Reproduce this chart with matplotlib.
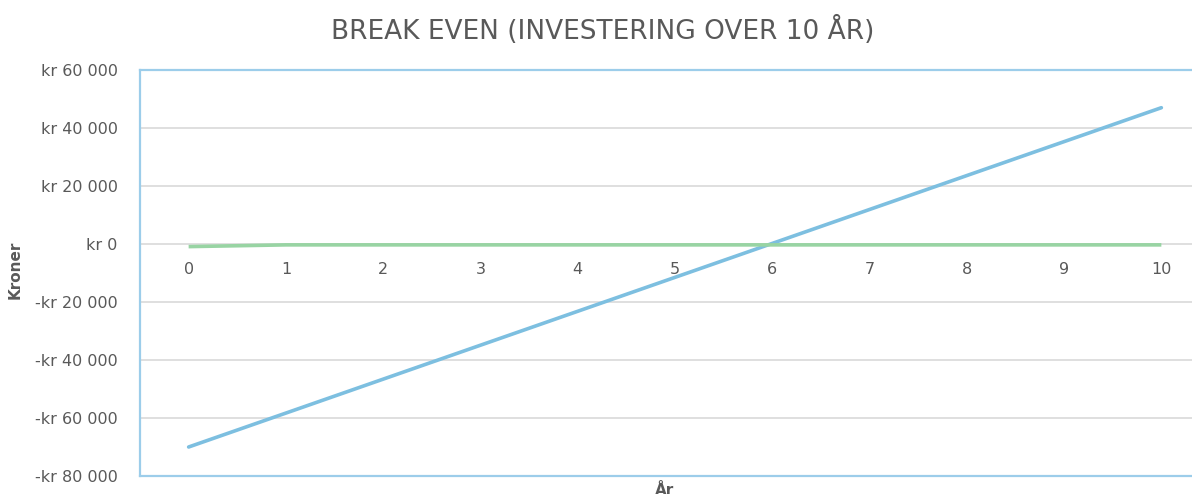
import matplotlib
matplotlib.use('Agg')
import matplotlib.pyplot as plt
from matplotlib.ticker import FuncFormatter, MultipleLocator
from matplotlib import font_manager

# data
years = [0, 1, 2, 3, 4, 5, 6, 7, 8, 9, 10]
year_labels = ['0', '1', '2', '3', '4', '5', '6', '7', '8', '9', '10']
investering = [-70000, -58300, -46600, -34900, -23200, -11500, 200, 11900, 23600, 35300, 47000]
drift = [-900, -300, -300, -300, -300, -300, -300, -300, -300, -300, -300]

title = 'BREAK EVEN (INVESTERING OVER 10 ÅR)'
ylabel = 'Kroner'
xlabel = 'År'

names = set(f.name for f in font_manager.fontManager.ttflist)
fams = [n for n in ['Liberation Sans Narrow', 'DejaVu Sans Condensed'] if n in names]
plt.rcParams['font.family'] = fams + ['DejaVu Sans']
narrow = len(fams) > 0
txt = '#595959'
blue = '#7DBFE0'
green = '#98D4A3'

fig = plt.figure(figsize=(11.92, 4.94), dpi=100)
ax = fig.add_axes([140/1192, 18/494, 1070/1192, 406/494])

ax.plot(years, investering, color=blue, lw=2.6, solid_capstyle='round')
ax.plot(years, drift, color=green, lw=2.6, solid_capstyle='butt')

ax.set_xlim(-0.5, 10.5)
ax.set_ylim(-80000, 60000)
ax.yaxis.set_major_locator(MultipleLocator(20000))

def kr(v, pos):
    s = '{:,.0f}'.format(abs(v)).replace(',', ' ')
    return ('-kr ' if v < 0 else 'kr ') + s

fs = 13 if narrow else 11.5
ax.yaxis.set_major_formatter(FuncFormatter(kr))
ax.tick_params(axis='y', length=0, pad=16, labelsize=fs, labelcolor=txt)
ax.grid(axis='y', color='#d9d9d9', lw=1.2)
ax.set_axisbelow(True)

for s in ['left', 'top', 'bottom']:
    ax.spines[s].set_color('#9CCDEA')
    ax.spines[s].set_linewidth(1.6)
ax.spines['right'].set_visible(False)

# category labels sit just under the zero line
ax.set_xticks([])
for x, lab in zip(years, year_labels):
    ax.annotate(lab, (x, 0), xytext=(0, -18), textcoords='offset pixels',
                ha='center', va='top', fontsize=fs, color=txt)

fig.text(603/1192, 1 - 30/494, title, ha='center', va='center',
         fontsize=22 if narrow else 19, color=txt)
fig.text(15/1192, 1 - 270/494, ylabel, rotation=90, ha='center', va='center',
         fontsize=11, color=txt, fontweight='bold')
fig.text(665/1192, 1 - 490/494, xlabel, ha='center', va='center',
         fontsize=11, color=txt, fontweight='bold')

fig.savefig('out.png', dpi=100)
